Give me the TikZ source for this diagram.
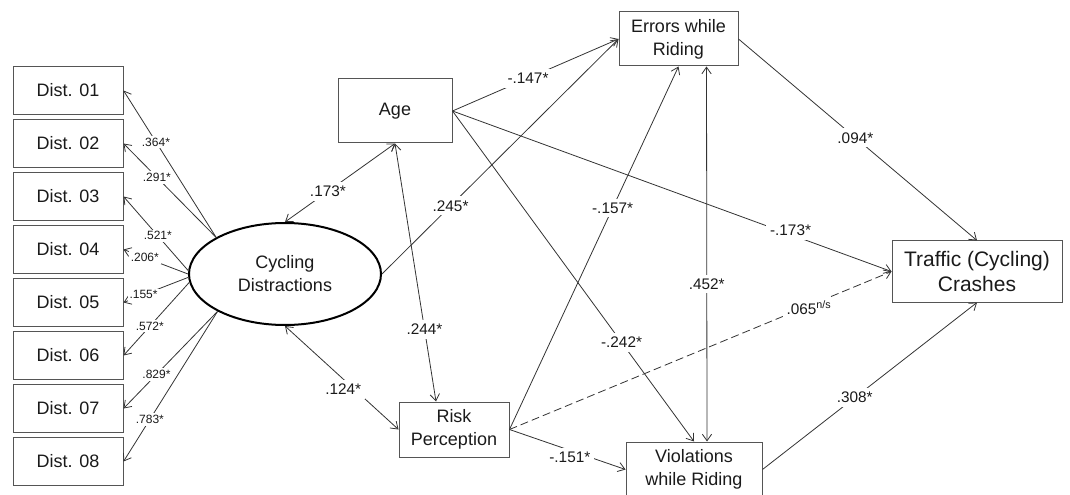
\documentclass[tikz,border=0pt]{standalone}
\usepackage{fontspec}
\setmainfont{Liberation Sans}
\usetikzlibrary{arrows.meta,shapes.geometric}
\definecolor{txt}{HTML}{1A1A1A}
\definecolor{linec}{HTML}{333333}
\definecolor{boxc}{HTML}{555555}
\begin{document}
\begin{tikzpicture}[x=0.75pt,y=-0.75pt,
 box/.style={draw=boxc, line width=0.75pt, rectangle, inner sep=0pt, align=center,
   font=\fontsize{13.5}{17.25}\selectfont, text=txt},
 distbox/.style={box, minimum width=82.5pt, minimum height=36pt},
 lat/.style={draw=black, line width=1.5pt, ellipse, inner sep=0pt, minimum width=144pt,
   minimum height=76.5pt, align=center, font=\fontsize{13.5}{17.25}\selectfont, text=txt},
 tip/.tip={Straight Barb[length=5pt,width=7pt]},
 conn/.style={draw=linec, line width=0.6pt, -tip},
 both/.style={draw=linec, line width=0.6pt, tip-tip},
 lab/.style={fill=white, inner sep=3pt, font=\fontsize{11.5}{12}\selectfont, text=txt},
 slab/.style={fill=white, inner sep=1.5pt, font=\fontsize{9}{10}\selectfont, text=txt},
]
\useasboundingbox (0,0) rectangle (1070,495);

% indicator boxes
\node[distbox] (d1) at (68,90.5) {Dist. 01};
\node[distbox] (d2) at (68,143.5) {Dist. 02};
\node[distbox] (d3) at (68,196.5) {Dist. 03};
\node[distbox] (d4) at (68,249.5) {Dist. 04};
\node[distbox] (d5) at (68,302.5) {Dist. 05};
\node[distbox] (d6) at (68,355.5) {Dist. 06};
\node[distbox] (d7) at (68,408.5) {Dist. 07};
\node[distbox] (d8) at (68,461.5) {Dist. 08};

% latent and observed variables
\node[lat] (cd) at (285,274) {Cycling\\Distractions};
\node[box, minimum width=85.5pt, minimum height=48pt] (age) at (395,111) {Age};
\node[box, minimum width=89.25pt, minimum height=40.5pt] (err) at (678.5,39) {Errors while\\Riding};
\node[box, minimum width=82.5pt, minimum height=41.25pt] (rp) at (454,429.5) {Risk\\Perception};
\node[box, minimum width=102pt, minimum height=41.25pt] (viol) at (694,469.5) {Violations\\while Riding};
\node[box, minimum width=127.5pt, minimum height=45.75pt, font=\fontsize{15.75}{19}\selectfont] (crash) at (977,271.5) {Traffic (Cycling)\\Crashes};

% loadings
\draw[conn] (cd.152) -- (d1.east) node[slab,pos=0.65]{.364*};
\draw[conn] (cd.152) -- (d2.east) node[slab,pos=0.64]{.291*};
\draw[conn] (cd.178) -- (d3.east) node[slab,pos=0.47]{.521*};
\draw[conn] (cd.180) -- (d4.east) node[slab,pos=0.67]{.206*};
\draw[conn] (cd.182) -- (d5.east) node[slab,pos=0.69]{.155*};
\draw[conn] (cd.185) -- (d6.east) node[slab,pos=0.60]{.572*};
\draw[conn] (cd.209) -- (d7.east) node[slab,pos=0.65]{.829*};
\draw[conn] (cd.209) -- (d8.east) node[slab,pos=0.72]{.783*};

% structural paths
\draw[both] (cd.north) -- (age.south) node[lab,pos=0.39]{.173*};
\draw[both] (cd.south) -- (rp.west) node[lab,pos=0.56,xshift=-4pt,yshift=-4pt]{.124*};
\draw[conn] (cd.east) -- (err.west) node[lab,pos=0.29]{.245*};
\draw[conn] (age.east) -- (err.west) node[lab,pos=0.455]{-.147*};
\draw[both] (age.south) -- ([xshift=-13.5pt]rp.north) node[lab,pos=0.72]{.244*};
\draw[conn] (age.east) -- (viol.north) node[lab,pos=0.70]{-.242*};
\draw[conn] (age.east) -- (crash.west) node[lab,pos=0.77,yshift=3pt]{-.173*};
\draw[conn] (rp.east) -- (err.south) node[lab,pos=0.61]{-.157*};
\draw[conn, dashed, dash pattern=on 6pt off 3pt] (rp.east) -- (crash.west)
   node[lab,pos=0.77,xshift=4pt]{.065\textsuperscript{n/s}};
\draw[conn] (rp.east) -- (viol.west) node[lab,pos=0.52,yshift=-5pt]{-.151*};
\draw[both] ([xshift=21pt]err.south) -- ([xshift=9.75pt]viol.north) node[lab,pos=0.58]{.452*};
\draw[conn] (err.east) -- (crash.north) node[lab,pos=0.49]{.094*};
\draw[conn] (viol.east) -- (crash.south) node[lab,pos=0.43]{.308*};
\end{tikzpicture}
\end{document}
